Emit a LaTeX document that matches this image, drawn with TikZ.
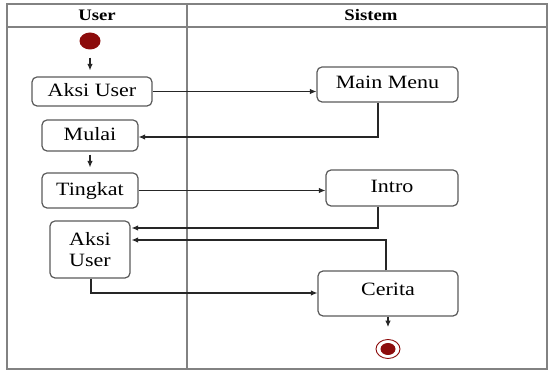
\documentclass[tikz,border=0pt]{standalone}
\usepackage{fontspec}
\setmainfont{Liberation Serif}[FakeStretch=1.17]
\usetikzlibrary{arrows.meta,shapes.geometric}
\definecolor{dred}{RGB}{140,12,12}
\definecolor{framegray}{RGB}{130,130,130}
\definecolor{boxgray}{RGB}{90,90,90}
\begin{document}
\begin{tikzpicture}[x=1pt,y=-1pt,
  actbase/.style={draw=boxgray, line width=1.2pt, rounded corners=5pt, inner sep=0pt,
    font=\fontsize{18.8}{21}\selectfont, align=center},
  act/.style={actbase, text depth=4pt},
  flow/.style={draw=black!85, line width=1.05pt, -{Latex[length=6.5pt,width=5.5pt]}},
  lane/.style={draw=framegray, line width=1.8pt},
  hdr/.style={font=\fontsize{16}{18}\selectfont\bfseries, inner sep=0pt}]
\useasboundingbox (0,0) rectangle (550,371);
% swimlane frame
\draw[lane] (7,4) rectangle (547,369);
\draw[lane] (7,27) -- (547,27);
\draw[lane] (187,4) -- (187,369);
\node[hdr] (hu) at (97,15) {User};
\node[hdr] (hs) at (371,15) {Sistem};
% nodes
\node[ellipse, fill=dred, minimum width=21pt, minimum height=17pt, inner sep=0pt] (start) at (90,41) {};
\node[act, minimum width=120pt, minimum height=29pt] (aksi1) at (92,91.5) {Aksi User};
\node[act, minimum width=141pt, minimum height=35pt] (main) at (387.5,84.5) {Main Menu};
\node[act, minimum width=96pt, minimum height=31pt] (mulai) at (90,135.5) {Mulai};
\node[act, minimum width=96pt, minimum height=35pt] (tingkat) at (90,190.5) {Tingkat};
\node[act, minimum width=132pt, minimum height=36pt] (intro) at (392,188) {Intro};
\node[actbase, minimum width=80pt, minimum height=57pt] (aksi2) at (90,249.5) {Aksi\\User};
\node[act, text depth=8pt, minimum width=140pt, minimum height=45pt] (cerita) at (388,293.5) {Cerita};
\node[ellipse, draw=dred, line width=0.9pt, minimum width=24pt, minimum height=19pt, inner sep=0pt] (end) at (388,349) {};
\node[ellipse, fill=dred, minimum width=15pt, minimum height=12pt, inner sep=0pt] (endin) at (end.center) {};
% helper coordinates
\coordinate (m1) at (378,137);
\coordinate (i1) at (378,228);
\coordinate (c1) at (386,240);
\coordinate (a1) at (91,293);
% connectors
\draw[flow, shorten <=8pt, shorten >=6pt] (start.south) -- (start.south |- aksi1.north);
\draw[flow] (aksi1.east) -- (aksi1.east -| main.west);
\draw[flow] (main.south -| m1) -- (m1) -- (m1 -| mulai.east);
\draw[flow, shorten <=3pt, shorten >=5pt] (mulai.south) -- (tingkat.north);
\draw[flow] (tingkat.east) -- (tingkat.east -| intro.west);
\draw[flow, shorten >=1pt] (intro.south -| i1) -- (i1) -- (i1 -| aksi2.east);
\draw[flow, shorten >=1pt] (cerita.north -| c1) -- (c1) -- (c1 -| aksi2.east);
\draw[flow] (aksi2.south -| a1) -- (a1) -- (a1 -| cerita.west);
\draw[flow, shorten >=12pt] (cerita.south -| end) -- (end.north);
\end{tikzpicture}
\end{document}
